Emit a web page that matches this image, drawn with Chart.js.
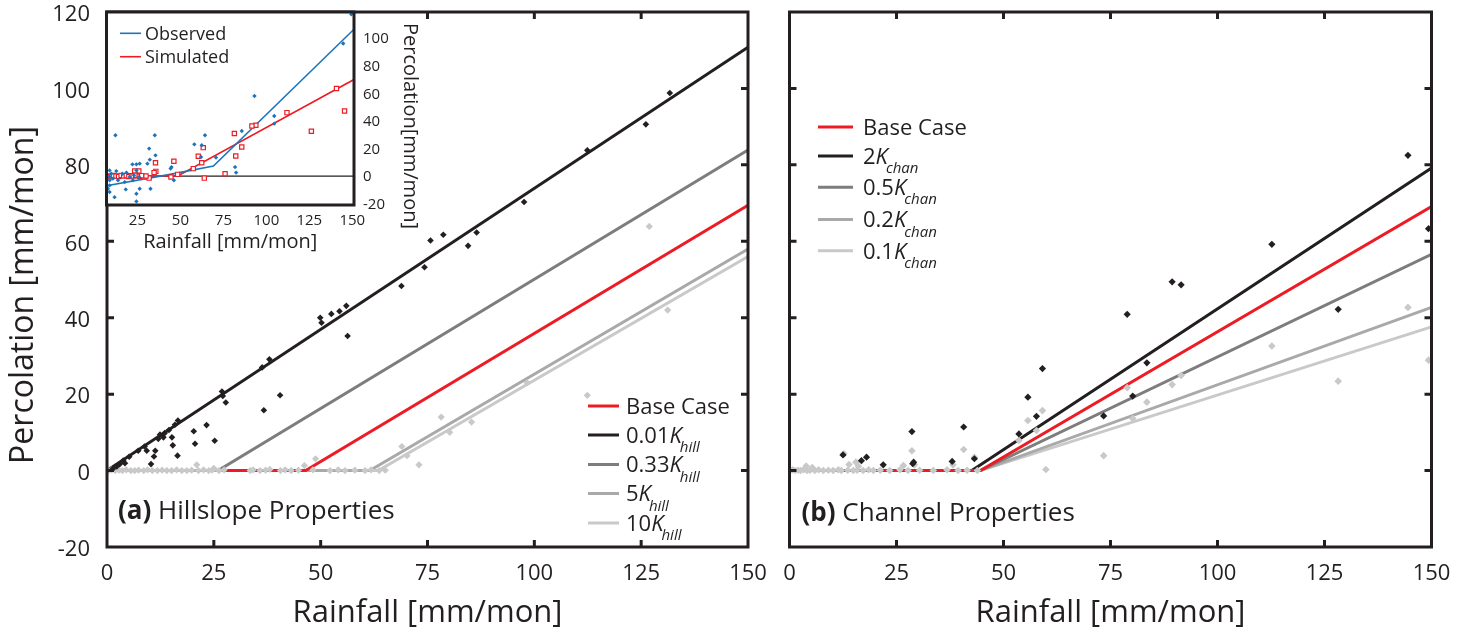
<!DOCTYPE html>
<html>
<head>
<meta charset="utf-8">
<script src="https://cdn.jsdelivr.net/npm/chart.js@4.4.1/dist/chart.umd.min.js"></script>
<style>
  html, body { margin: 0; padding: 0; background: #fff; }
  #wrap { position: relative; width: 1460px; height: 634px; overflow: hidden; background: #fff; }
  canvas { position: absolute; }
  #cA { left: 0; top: 0; }
  #cB { left: 770px; top: 0; }
  #cIn { left: 0; top: 0; }
</style>
</head>
<body>
<div id="wrap">
  <canvas id="cA" width="770" height="634"></canvas>
  <canvas id="cB" width="690" height="634"></canvas>
  <canvas id="cIn" width="440" height="260"></canvas>
</div>
<script>
// ---------- axis ticks ----------
const rainTicks = [0, 25, 50, 75, 100, 125, 150];
const percTicks = [-20, 0, 20, 40, 60, 80, 100, 120];
const insetRainTicks = [25, 50, 75, 100, 125, 150];
const insetPercTicks = [-20, 0, 20, 40, 60, 80, 100];

// ---------- (a) hillslope conductivity runs: fitted percolation lines ----------
const hillBaseX = [27, 46.5, 150];   const hillBaseY = [0, 0, 69.4];
const hill001X  = [0, 150];          const hill001Y  = [0, 110.8];
const hill033X  = [0, 26, 150];      const hill033Y  = [0, 0, 83.9];
const hill5X    = [0, 61.5, 150];    const hill5Y    = [0, 0, 58];
const hill10X   = [0, 63.5, 150];    const hill10Y   = [0, 0, 56];

// monthly points, 0.01 K_hill run
const hillDarkX = [1.4, 2.3, 3, 3.8, 4.2, 5.2, 7.3, 8.8, 9.3, 10.3, 11, 11.3, 12, 12.4, 13.2, 13.5, 14.5, 15.2, 15.4, 15.9, 16.5, 16.6,
  20.3, 20.6, 23.3, 25.2, 26.9, 27.1, 27.8, 36.3, 36.7, 38, 40.5, 49.9, 50.2, 52.5, 54.4, 56, 56.3, 68.9, 74.3, 75.7,
  78.7, 84.5, 86.5, 97.6, 112.4, 126.1, 131.7];
const hillDarkY = [0.5, 1.1, 1.7, 2.6, 1.9, 3.6, 5.2, 6.3, 5.2, 1.7, 3.7, 5.2, 8.3, 9.4, 8.7, 9.8, 10.6, 8.7, 6.6, 12, 3.9, 13.1,
  10.3, 7, 11.9, 7.8, 20.7, 19.5, 17.8, 27, 15.8, 29.1, 19.7, 40, 38.7, 41, 41.7, 43.1, 35.2, 48.3, 53.2, 60.2,
  61.7, 58.8, 62.3, 70.3, 83.8, 90.6, 98.8];
// monthly points, 5-10 K_hill runs
const hillLightX = [0.4, 1.1, 1.9, 2.8, 3.6, 4.5, 5.6, 6.5, 7.4, 8.6, 9.5, 10.6, 11.8, 12.9, 14, 15.1, 16.3, 17.5, 18.7, 19.8,
  21, 21.4, 22.6, 23.8, 24.6, 25, 26.2, 27.4, 33.5, 34.2, 35.8, 37.1, 38.1, 40.6, 41.7, 43.1, 44.8, 46.2, 48.2, 48.8,
  52.2, 54.1, 55.7, 58, 60.4, 61.8, 63.7, 65.1, 69, 70.2, 73, 78.2, 80.2, 85.3, 98.3, 112.4, 126.9, 131.2];
const hillLightY = [0, 0.2, 0, 0.1, 0, 0.2, 0, 0, 0.1, 0, 0.2, 0, 0, 0.1, 0, 0, 0.2, 0, 0, 0.1,
  1.5, 0, 0.2, 0, 0.1, 0.6, 0, 0.2, 0, 0.2, 0, 0.1, 0.3, 0, 0.2, 0, 0.1, 1.3, 0.2, 3.1,
  0, 0.2, 0, 0.1, 0, 0.2, 0, 0.1, 6.3, 3.9, 1.5, 14, 10, 12.7, 23, 19.7, 63.9, 42];

// ---------- (b) channel conductivity runs ----------
const chanBaseX = [3, 44.6, 150];    const chanBaseY = [0, 0, 69.1];
const chan2X    = [0, 42.6, 150];    const chan2Y    = [0, 0, 79.2];
const chan05X   = [0, 44.6, 150];    const chan05Y   = [0, 0, 56.6];
const chan02X   = [0, 44.6, 150];    const chan02Y   = [0, 0, 42.7];
const chan01X   = [0, 44.6, 150];    const chan01Y   = [0, 0, 37.6];

const chanDarkX = [12.5, 16.8, 18, 21.9, 28.6, 28.8, 29, 38, 40.7, 43.2, 53.6, 55.7, 57.7, 59.1, 73.4, 78.9, 80.2,
  83.5, 89.4, 91.5, 112.7, 128.2, 144.5, 149.3];
const chanDarkY = [4.1, 2.6, 3.5, 1.5, 10.2, 1.8, 2.2, 2.4, 11.4, 3.1, 9.6, 19.2, 14.2, 26.7, 14.3, 40.9, 19.5,
  28.2, 49.4, 48.6, 59.2, 42.2, 82.5, 63.3];
const chanLightX = [0.2, 0.7, 1.3, 2, 2.6, 3.3, 3.9, 4.1, 4.8, 5.3, 5.9, 6.8, 7.9, 9.1, 10.2, 11.4, 12.1, 12.7, 13.6, 13.9,
  14.9, 15.5, 15.8, 16.1, 17.2, 18.5, 19.6, 21.2, 23.4, 25.8, 26.6, 27.7, 28.6, 29.2, 30.4, 33.6, 36.8, 38.2, 39.4,
  40.7, 41.5, 43.2, 43.9, 53.6, 55.7, 57.7, 59.1, 59.9, 73.4, 78.9, 80.2, 83.5, 89.4, 91.5, 112.7, 128.2, 144.5, 149.3];
const chanLightY = [0, 0.2, 0, 0.1, 0, 0.2, 1.2, 0, 0.1, 0.8, 0, 0.2, 0, 0.1, 0, 0.2, 0, 4.4, 0.1, 1.6,
  0, 2.2, 0.1, 1.1, 0, 0.2, 0, 0.1, 0, 0.2, 1.3, 0, 5.2, 1.5, 0.1, 0, 0.2, 1.5, 0,
  5.5, 0.1, 3.5, 0, 7.9, 13.1, 10.5, 15.7, 0.3, 3.9, 21.7, 13.6, 17.9, 22.5, 24.9, 32.6, 23.4, 42.7, 28.9];

// ---------- inset: observed vs simulated percolation ----------
const obsFitX = [7, 44, 69.2, 151];  const obsFitY = [-7, 1.2, 7.3, 106.5];
const simFitX = [7, 48.5, 151];      const simFitY = [0, 0, 70];
const zeroX = [7, 151];              const zeroY = [0, 0];
const obsX = [149.4, 144.7, 93.1, 104.6, 104.6, 85.7, 81.8, 82.4, 70.7, 64.3, 58.1, 62.4, 62, 44.8, 44.3, 46.2, 35.1,
  31.8, 35.5, 32.2, 30.8, 32.6, 12.2, 26.3, 24.4, 22.1, 24.4, 26.3, 24.4, 24.4, 18.2, 11.7, 8.8, 8.8, 9.8, 8.8, 12.7,
  16.2, 18.6, 20.5, 22.4, 17.6, 13.7, 10.7, 8.8, 8.8, 7.8, 25.9, 23];
const obsY = [117.4, 96.1, 58.1, 43.6, 38, 32.7, 6.5, 2.5, 13.4, 29.6, 23, 22.3, 13.8, 6.5, 5.4, -3.1, 29.6,
  19.9, 15, 11.9, 9, -9.2, 29.6, 9, 8.5, 8.5, 4.1, -9.2, -12.8, -18.4, -9.7, -15.3, -11.6, -6.8, 1.7, 4.1, 3.6,
  1.7, 2.5, -0.7, -3.1, -4.4, -3.1, -1.9, -3.1, -0.7, -9.2, -0.7, 0.5];
const simX = [140.8, 145.5, 126.2, 112, 93.9, 91.6, 81.4, 85.7, 82.2, 76, 63.3, 60.4, 62.4, 57.5, 63.9, 46.2, 44.5,
  48.4, 35.5, 35.7, 34.7, 31.8, 28.9, 25.8, 23.4, 8, 9.5, 11, 12.5, 14, 15.5, 17, 18.5, 20, 21.5, 22.5, 24, 26, 27.5, 30];
const simY = [63.5, 47.2, 32.5, 46, 36.8, 36.3, 30.8, 21.1, 14.5, 1.7, 20.6, 14.3, 9.7, 5.4, -1.5, 10.7, -0.7,
  1.2, 9.7, 3.4, 2.5, -1.5, -0.7, 3.6, 3.6, 0, -0.5, 0.4, 0, -0.3, 0.5, 0, 0.3, -0.4, 0.2, 0, 0.6, -0.2, 0.3, 0];

// ---------- styling ----------
const FONT = "'Open Sans', 'DejaVu Sans', sans-serif";
const INK = '#231f20';
const RED = '#ed1c24';
const GREY1 = '#7d7d7d', GREY2 = '#a9a9a9', GREY3 = '#c9c9c9';
const BLUE = '#1c75bc';

const pts = (xs, ys) => xs.map((x, i) => ({ x, y: ys[i] }));

function lineSet(label, xs, ys, color, width) {
  return { label, data: pts(xs, ys), showLine: true, borderColor: color, backgroundColor: color,
    borderWidth: width, pointRadius: 0, tension: 0, fill: false, borderJoinStyle: 'miter' };
}
function dotSet(label, xs, ys, color, style, r, hollow) {
  return { label, data: pts(xs, ys), showLine: false, pointStyle: style, pointRadius: r,
    pointBorderWidth: hollow ? 1.2 : 0, pointBorderColor: color,
    pointBackgroundColor: hollow ? '#ffffff' : color, borderColor: color, backgroundColor: color };
}

// frame with inward tick marks on all four sides
const framePlugin = {
  id: 'frame',
  afterDatasetsDraw(chart, args, o) {
    const { ctx, chartArea: a, scales } = chart;
    ctx.save();
    ctx.strokeStyle = o.color || INK;
    ctx.lineWidth = o.width || 3;
    if (o.tickLen) {
      const L = o.tickLen;
      ctx.beginPath();
      scales.x.ticks.forEach(t => {
        if (t.value <= scales.x.min || t.value >= scales.x.max) return;
        const p = scales.x.getPixelForValue(t.value);
        ctx.moveTo(p, a.bottom); ctx.lineTo(p, a.bottom - L);
        ctx.moveTo(p, a.top); ctx.lineTo(p, a.top + L);
      });
      scales.y.ticks.forEach(t => {
        if (t.value <= scales.y.min || t.value >= scales.y.max) return;
        const p = scales.y.getPixelForValue(t.value);
        ctx.moveTo(a.left, p); ctx.lineTo(a.left + L, p);
        ctx.moveTo(a.right, p); ctx.lineTo(a.right - L, p);
      });
      ctx.stroke();
    }
    ctx.strokeRect(a.left, a.top, a.width, a.height);
    ctx.restore();
  }
};

// white plot background (used by the inset so it hides what lies beneath)
const paperPlugin = {
  id: 'paper',
  beforeDraw(chart, args, o) {
    if (!o.fill) return;
    const { ctx, chartArea: a } = chart;
    ctx.save(); ctx.fillStyle = '#ffffff';
    ctx.fillRect(a.left, a.top, a.width, a.height);
    ctx.restore();
  }
};

// text with italic K and italic subscript, e.g. "0.01K_hill"
function richText(ctx, label, x, y, size) {
  const m = label.match(/^(.*?)K_(\w+)$/);
  ctx.font = `${size}px ${FONT}`;
  if (!m) { ctx.fillText(label, x, y); return; }
  ctx.fillText(m[1], x, y); x += ctx.measureText(m[1]).width;
  ctx.font = `italic ${size}px ${FONT}`;
  ctx.fillText('K', x, y); x += ctx.measureText('K').width;
  ctx.font = `italic ${Math.round(size * 0.7)}px ${FONT}`;
  ctx.fillText(m[2], x - 2, y + size * 0.42);
}

// legend drawn from the datasets' own labels and colours
const richLegendPlugin = {
  id: 'richLegend',
  afterDraw(chart, args, o) {
    if (!o.labels) return;
    const { ctx } = chart;
    const sets = chart.data.datasets;
    ctx.save();
    ctx.textBaseline = 'alphabetic';
    ctx.fillStyle = INK;
    o.labels.forEach((lab, i) => {
      const ds = sets.find(d => d.label === lab);
      const y = o.ys[i];
      ctx.strokeStyle = ds.borderColor;
      ctx.lineWidth = o.lineWidth;
      ctx.beginPath(); ctx.moveTo(o.x0, y); ctx.lineTo(o.x1, y); ctx.stroke();
      ctx.fillStyle = INK;
      richText(ctx, lab, o.textX, y + o.size * 0.36, o.size);
    });
    ctx.restore();
  }
};

// panel tag such as "(a) Hillslope Properties" and rotated side titles
const annotPlugin = {
  id: 'annot',
  afterDraw(chart, args, o) {
    const { ctx } = chart;
    ctx.save();
    ctx.fillStyle = INK;
    if (o.tag) {
      ctx.textBaseline = 'alphabetic';
      ctx.font = `bold ${o.tag.size}px ${FONT}`;
      ctx.fillText(o.tag.bold, o.tag.x, o.tag.y);
      const w = ctx.measureText(o.tag.bold).width;
      ctx.font = `${o.tag.size}px ${FONT}`;
      ctx.fillText(o.tag.text, o.tag.x + w, o.tag.y);
    }
    if (o.side) {
      ctx.translate(o.side.x, o.side.y);
      ctx.rotate(o.side.rotation);
      ctx.textAlign = 'center';
      ctx.textBaseline = 'middle';
      ctx.font = `${o.side.size}px ${FONT}`;
      ctx.fillText(o.side.text, 0, 0);
    }
    ctx.restore();
  }
};

Chart.register(framePlugin, paperPlugin, richLegendPlugin, annotPlugin);

function fixedTicks(list) {
  return s => { s.ticks = list.map(v => ({ value: v })); };
}

function mainScales(ySize, showY, xTitlePad) {
  return {
    x: {
      type: 'linear', min: 0, max: 150,
      afterBuildTicks: fixedTicks(rainTicks),
      // fixed band height; edge labels may overhang into the outer margin
      afterFit: s => { s.height = 87; s.paddingLeft = 0; s.paddingRight = 0; },
      grid: { display: false, drawTicks: false },
      border: { display: false },
      ticks: { color: INK, font: { family: FONT, size: 22, lineHeight: 1 }, padding: 16, maxRotation: 0, autoSkip: false },
      title: { display: true, text: 'Rainfall [mm/mon]', color: INK,
        font: { family: FONT, size: 31, lineHeight: 1.2 }, padding: { top: 0, bottom: xTitlePad } }
    },
    y: {
      type: 'linear', min: -20, max: 120,
      afterBuildTicks: fixedTicks(percTicks),
      afterFit: s => { s.width = ySize; s.paddingTop = 0; s.paddingBottom = 0; },
      grid: { display: false, drawTicks: false },
      border: { display: false },
      ticks: { display: showY, color: INK, font: { family: FONT, size: 22, lineHeight: 1 }, padding: 17, labelOffset: 3 }
    }
  };
}

const baseOpts = {
  responsive: false, animation: false, events: [],
  plugins: { legend: { display: false }, tooltip: { enabled: false } }
};

// ---------- panel (a) ----------
new Chart(document.getElementById('cA'), {
  type: 'scatter',
  data: { datasets: [
    dotSet('0.01K_hill points', hillDarkX, hillDarkY, INK, 'rectRot', 3.3),
    dotSet('5K_hill points', hillLightX, hillLightY, GREY3, 'rectRot', 3.6),
    lineSet('Base Case', hillBaseX, hillBaseY, RED, 3),
    lineSet('0.01K_hill', hill001X, hill001Y, INK, 3),
    lineSet('5K_hill', hill5X, hill5Y, GREY2, 3),
    lineSet('10K_hill', hill10X, hill10Y, GREY3, 3),
    lineSet('0.33K_hill', hill033X, hill033Y, GREY1, 3)
  ] },
  options: Object.assign({}, baseOpts, {
    layout: { padding: { left: 0, top: 12, right: 22, bottom: 0 } },
    scales: mainScales(107, true, 2),
    plugins: Object.assign({}, baseOpts.plugins, {
      frame: { tickLen: 7, width: 3, color: INK },
      richLegend: { labels: ['Base Case', '0.01K_hill', '0.33K_hill', '5K_hill', '10K_hill'],
        x0: 588, x1: 619, textX: 626, ys: [406, 435, 464.5, 493.5, 523], size: 22, lineWidth: 3 },
      annot: {
        tag: { bold: '(a)', text: ' Hillslope Properties', x: 118, y: 519, size: 26 },
        side: { text: 'Percolation [mm/mon]', x: 24, y: 295, rotation: -Math.PI / 2, size: 32 }
      }
    })
  })
});

// ---------- panel (b) ----------
new Chart(document.getElementById('cB'), {
  type: 'scatter',
  data: { datasets: [
    dotSet('2K_chan points', chanDarkX, chanDarkY, INK, 'rectRot', 3.6),
    dotSet('0.1K_chan points', chanLightX, chanLightY, GREY3, 'rectRot', 3.8),
    lineSet('Base Case', chanBaseX, chanBaseY, RED, 3),
    lineSet('2K_chan', chan2X, chan2Y, INK, 3),
    lineSet('0.5K_chan', chan05X, chan05Y, GREY1, 3),
    lineSet('0.2K_chan', chan02X, chan02Y, GREY2, 3),
    lineSet('0.1K_chan', chan01X, chan01Y, GREY3, 3)
  ] },
  options: Object.assign({}, baseOpts, {
    layout: { padding: { left: 0, top: 12, right: 28.5, bottom: 0 } },
    scales: mainScales(19.5, false, 2),
    plugins: Object.assign({}, baseOpts.plugins, {
      frame: { tickLen: 7, width: 3, color: INK },
      richLegend: { labels: ['Base Case', '2K_chan', '0.5K_chan', '0.2K_chan', '0.1K_chan'],
        x0: 48, x1: 83, textX: 93, ys: [127, 156, 187.3, 219.5, 250.7], size: 22, lineWidth: 3 },
      annot: {
        tag: { bold: '(b)', text: ' Channel Properties', x: 31.5, y: 521, size: 26 }
      }
    })
  })
});

// ---------- inset ----------
new Chart(document.getElementById('cIn'), {
  type: 'scatter',
  data: { datasets: [
    dotSet('Observed points', obsX, obsY, BLUE, 'rectRot', 2.2),
    dotSet('Simulated points', simX, simY, RED, 'rect', 3, true),
    lineSet('Observed', obsFitX, obsFitY, BLUE, 1.6),
    lineSet('Simulated', simFitX, simFitY, RED, 1.6),
    lineSet('zero', zeroX, zeroY, INK, 1.3)
  ] },
  options: Object.assign({}, baseOpts, {
    layout: { padding: { left: 106.5, top: 12, right: 0, bottom: 0 } },
    scales: {
      x: {
        type: 'linear', min: 7, max: 151,
        afterBuildTicks: fixedTicks(insetRainTicks),
        afterFit: s => { s.height = 55; s.paddingLeft = 0; s.paddingRight = 0; },
        grid: { display: false, drawTicks: false },
        border: { display: false },
        ticks: { color: INK, font: { family: FONT, size: 15, lineHeight: 1 }, padding: 8, maxRotation: 0, autoSkip: false },
        title: { display: true, text: 'Rainfall [mm/mon]', color: INK,
          font: { family: FONT, size: 20, lineHeight: 1.2 }, padding: { top: 0, bottom: 6 } }
      },
      y: {
        type: 'linear', position: 'right', min: -21, max: 119,
        afterBuildTicks: fixedTicks(insetPercTicks),
        afterFit: s => { s.width = 86; s.paddingTop = 0; s.paddingBottom = 0; },
        grid: { display: false, drawTicks: false },
        border: { display: false },
        ticks: { color: INK, font: { family: FONT, size: 15, lineHeight: 1 }, padding: 9, labelOffset: 1 }
      }
    },
    plugins: Object.assign({}, baseOpts.plugins, {
      paper: { fill: true },
      frame: { tickLen: 0, width: 3, color: INK },
      richLegend: { labels: ['Observed', 'Simulated'], x0: 120, x1: 141, textX: 145, ys: [33.3, 56.7], size: 18, lineWidth: 1.6 },
      annot: {
        side: { text: 'Percolation[mm/mon]', x: 410, y: 126, rotation: Math.PI / 2, size: 20 }
      }
    })
  })
});
</script>
</body>
</html>
